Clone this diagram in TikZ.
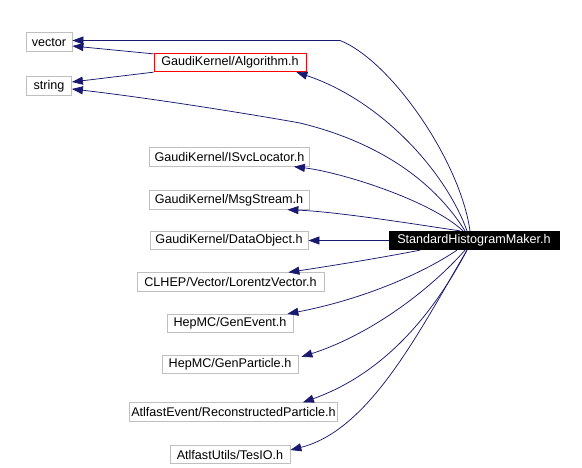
\documentclass[tikz,border=0pt]{standalone}
\usepackage{fontspec}
\setmainfont{Liberation Sans}
\usepackage{tikz}
\usetikzlibrary{arrows.meta,calc}
\definecolor{edgeblue}{RGB}{25,25,112}
\definecolor{boxgrey}{RGB}{191,191,191}
\definecolor{boxred}{RGB}{255,0,0}

\begin{document}
\begin{tikzpicture}[x=1pt,y=-1pt,
    file/.style={draw=boxgrey,fill=white,line width=0.8pt,inner sep=0pt,
      minimum height=18.5pt,font=\fontsize{12.6}{14}\selectfont},
    dep/.style={edgeblue,line width=0.75pt,-{Triangle[length=11pt,width=8pt]}}]
        \useasboundingbox (0,0) rectangle (582,467);
        % Files
        \node[file,minimum width=46pt] (vector) at (49,42) {vector};
        \node[file,minimum width=45pt] (string) at (49,86) {string};
        \node[file,draw=boxred,minimum width=152pt] (alg) at (230,62.5)
          {GaudiKernel/Algorithm.h};
        \node[file,minimum width=160pt] (isvc) at (229.5,157)
          {GaudiKernel/ISvcLocator.h};
        \node[file,minimum width=160pt] (msg) at (229,200)
          {GaudiKernel/MsgStream.h};
        \node[file,minimum width=158pt] (dobj) at (229,240.5)
          {GaudiKernel/DataObject.h};
        \node[file,minimum width=187pt] (lorentz) at (230.5,282)
          {CLHEP/Vector/LorentzVector.h};
        \node[file,minimum width=126pt] (genev) at (230,323.5)
          {HepMC/GenEvent.h};
        \node[file,minimum width=136pt] (genp) at (230,364.5)
          {HepMC/GenParticle.h};
        \node[file,minimum width=208pt] (rec) at (233.5,412)
          {AtlfastEvent/ReconstructedParticle.h};
        \node[file,minimum width=120pt] (tesio) at (230,454.5)
          {AtlfastUtils/TesIO.h};
        % Main file
        \node[file,draw=black,fill=black,text=white,minimum width=170pt]
          (shm) at (474,240.5) {StandardHistogramMaker.h};
        % Algorithm.h includes
        \draw[dep] ([yshift=-1pt]alg.north west) -- ([yshift=-4pt]vector.east);
        \draw[dep] (alg.south west) -- ([yshift=4pt]string.east);
        % Upper includes
        \draw[dep] ([xshift=-4pt]shm.north)
          .. controls (460,160) and (390,60) .. (340,40.5)
          -- ([yshift=1.5pt]vector.east);
        \draw[dep] ([xshift=-7pt]shm.north)
          .. controls (445,170) and (380,100) .. ([xshift=-10pt]alg.south east);
        \draw[dep] ([xshift=-9pt]shm.north)
          .. controls (430,175) and (370,140) .. (300,123)
          .. controls (250,114) and (150,98) .. ([yshift=-3pt]string.east);
        \draw[dep] ([xshift=-11pt]shm.north)
          .. controls (430,200) and (340,172) .. ([xshift=-16pt]isvc.south east);
        \draw[dep] ([xshift=-14pt]shm.north)
          .. controls (420,225) and (340,212) .. ([xshift=-22pt]msg.south east);
        \draw[dep] (shm.west) -- (dobj.east);
        % Lower includes
        \draw[dep] ([xshift=-54pt]shm.south)
          .. controls (380,258) and (330,266) .. ([xshift=-36pt]lorentz.north east);
        \draw[dep] ([xshift=-17pt]shm.south)
          .. controls (420,275) and (360,300) .. ([xshift=-6pt]genev.north east);
        \draw[dep] ([xshift=-9pt]shm.south)
          .. controls (430,290) and (370,335) .. ([xshift=3pt,yshift=-2pt]genp.north east);
        \draw[dep] ([xshift=-7pt]shm.south)
          .. controls (430,320) and (380,375) .. ([xshift=-35pt]rec.north east);
        \draw[dep] ([xshift=-7pt]shm.south)
          .. controls (420,330) and (370,430) .. ([yshift=4.5pt]tesio.east);
      \end{tikzpicture}
\end{document}
